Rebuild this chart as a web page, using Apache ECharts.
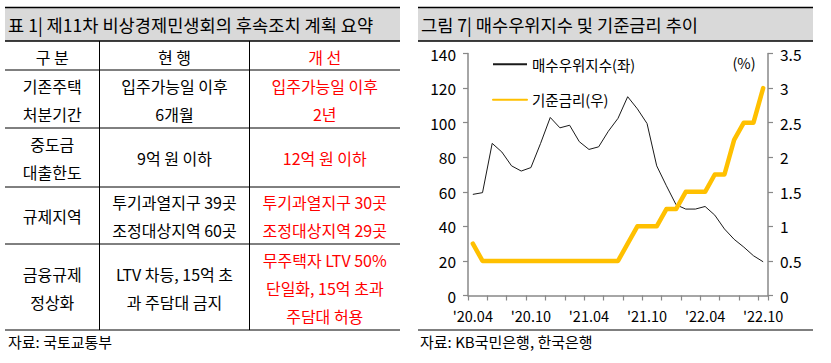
<!DOCTYPE html>
<html>
<head>
<meta charset="utf-8">
<script src="https://cdn.jsdelivr.net/npm/echarts@6/dist/echarts.min.js"></script>
<style>
html,body{margin:0;padding:0;background:#fff;}
#c{width:831px;height:363px;}
</style>
</head>
<body>
<div id="c"></div>
<script>
// ---------- data ----------
const tableTitle = '표 1| 제11차 비상경제민생회의 후속조치 계획 요약';
const tableHeader = ['구 분', '현 행', '개 선'];
const rowCategory = [['기존주택', '처분기간'], ['중도금', '대출한도'], ['규제지역'], ['금융규제', '정상화']];
const rowCurrent = [['입주가능일 이후', '6개월'], ['9억 원 이하'], ['투기과열지구 39곳', '조정대상지역 60곳'], ['LTV 차등, 15억 초', '과 주담대 금지']];
const rowImproved = [['입주가능일 이후', '2년'], ['12억 원 이하'], ['투기과열지구 30곳', '조정대상지역 29곳'], ['무주택자 LTV 50%', '단일화, 15억 초과', '주담대 허용']];
const tableSource = '자료: 국토교통부';

const chartTitle = '그림 7| 매수우위지수 및 기준금리 추이';
const chartSource = '자료: KB국민은행, 한국은행';
const unitLabel = '(%)';
const seriesNames = ['매수우위지수(좌)', '기준금리(우)'];
const months = ["'20.04","'20.05","'20.06","'20.07","'20.08","'20.09","'20.10","'20.11","'20.12",
  "'21.01","'21.02","'21.03","'21.04","'21.05","'21.06","'21.07","'21.08","'21.09","'21.10","'21.11","'21.12",
  "'22.01","'22.02","'22.03","'22.04","'22.05","'22.06","'22.07","'22.08","'22.09","'22.10"];
const buyIndex = [58.5, 59.5, 88, 83, 75, 72, 74, 88, 103, 97, 98.5, 89, 84.5, 86, 95, 102.5, 115, 108, 99.5,
  75, 63.5, 52.5, 50, 50, 51.5, 46.5, 38.5, 32.5, 28, 23, 19.5];
const baseRate = [0.75, 0.5, 0.5, 0.5, 0.5, 0.5, 0.5, 0.5, 0.5, 0.5, 0.5, 0.5, 0.5, 0.5, 0.5, 0.5, 0.75, 1.0,
  1.0, 1.0, 1.25, 1.25, 1.5, 1.5, 1.5, 1.75, 1.75, 2.25, 2.5, 2.5, 3.0];

// ---------- layout / style ----------
const FONT = '"Noto Sans CJK KR", "Noto Sans", sans-serif';
const RED = '#FF0000';
const rowY = [41, 70, 128, 187, 244, 330];
const colX = [5, 99.5, 249.5, 400];
const LH = 28;

const g = [];
function hline(x1, x2, y, w) { g.push({type: 'line', silent: true, shape: {x1: x1, y1: y, x2: x2, y2: y}, style: {stroke: '#000', lineWidth: w}}); }
function vline(x, y1, y2, w) { g.push({type: 'line', silent: true, shape: {x1: x, y1: y1, x2: x, y2: y2}, style: {stroke: '#000', lineWidth: w}}); }
function txt(s, x, y, size, color, align) {
  g.push({type: 'text', silent: true, x: x, y: y, style: {
    text: s, fontSize: size, fontFamily: FONT, fill: color, lineHeight: LH,
    align: align || 'center', textAlign: align || 'center', verticalAlign: 'middle', textVerticalAlign: 'middle'}});
}

// title bars
[[5, 400, tableTitle], [418, 813, chartTitle]].forEach(function (t) {
  g.push({type: 'rect', silent: true, shape: {x: t[0], y: 7.5, width: t[1] - t[0], height: 33.5}, style: {fill: '#D9D9D9'}});
  hline(t[0], t[1], 7.5, 1.5);
  hline(t[0], t[1], 41, 1.5);
  txt(t[2], t[0] + 3, 24.5, 17.6, '#000', 'left');
});

// table grid
for (let i = 1; i < rowY.length; i++) hline(colX[0], colX[3], rowY[i], 1);
vline(colX[1], rowY[0], rowY[5], 1);
vline(colX[2], rowY[0], rowY[5], 1);

// table text
function cx(c) { return (colX[c] + colX[c + 1]) / 2; }
tableHeader.forEach(function (h, c) { txt(h, cx(c), 56.5, 16, c === 2 ? RED : '#000'); });
for (let r = 0; r < rowCategory.length; r++) {
  const cy = (rowY[r + 1] + rowY[r + 2]) / 2 + 0.5;
  txt(rowCategory[r].join('\n'), cx(0), cy, 16, '#000');
  txt(rowCurrent[r].join('\n'), cx(1), cy, 16, '#000');
  txt(rowImproved[r].join('\n'), cx(2), cy, 16, RED);
}
txt(tableSource, 8, 341.5, 15, '#000', 'left');

// chart frame extras
hline(418, 813, 330, 1.2);
txt(chartSource, 420, 341.5, 15, '#000', 'left');
txt(unitLabel, 744, 62, 14.5, '#000', 'center');

const axisGray = '#888888';
const chart = echarts.init(document.getElementById('c'), null, {renderer: 'svg'});
chart.setOption({
  animation: false,
  backgroundColor: '#fff',
  textStyle: {fontFamily: FONT},
  graphic: {elements: g},
  grid: {left: 468, right: 63, top: 53.5, bottom: 67.5, containLabel: false},
  legend: {
    orient: 'vertical', left: 492, top: 57, itemWidth: 34, itemHeight: 14, itemGap: 21, padding: 0,
    itemStyle: {color: 'transparent', borderColor: 'transparent', borderWidth: 0},
    textStyle: {fontSize: 14.5, color: '#000', fontFamily: FONT},
    data: seriesNames
  },
  xAxis: {
    type: 'category', data: months, boundaryGap: true,
    axisLine: {lineStyle: {color: axisGray, width: 1.5}},
    axisTick: {show: true, interval: 1, length: 5, alignWithLabel: false, lineStyle: {color: axisGray, width: 1.2}},
    axisLabel: {interval: 5, margin: 12, fontSize: 14.5, lineHeight: 15, color: '#000', fontFamily: FONT},
    splitLine: {show: false}
  },
  yAxis: [{
    type: 'value', min: 0, max: 140, interval: 20, position: 'left',
    axisLine: {show: true, lineStyle: {color: axisGray, width: 1.5}},
    axisTick: {show: true, length: 5, lineStyle: {color: axisGray, width: 1.2}},
    axisLabel: {margin: 12, fontSize: 15.5, lineHeight: 15, color: '#000', fontFamily: FONT},
    splitLine: {show: false}
  }, {
    type: 'value', min: 0, max: 3.5, interval: 0.5, position: 'right',
    axisLine: {show: true, lineStyle: {color: axisGray, width: 1.5}},
    axisTick: {show: true, length: 5, lineStyle: {color: axisGray, width: 1.2}},
    axisLabel: {margin: 12, fontSize: 15.5, lineHeight: 15, color: '#000', fontFamily: FONT},
    splitLine: {show: false}
  }],
  series: [{
    name: seriesNames[0], type: 'line', yAxisIndex: 0, data: buyIndex,
    symbol: 'none', lineStyle: {color: '#1a1a1a', width: 1}, itemStyle: {color: '#1a1a1a'}
  }, {
    name: seriesNames[1], type: 'line', yAxisIndex: 1, data: baseRate,
    symbol: 'none', lineStyle: {color: '#FFC000', width: 4.5, cap: 'round', join: 'round'}, itemStyle: {color: '#FFC000'}
  }]
});
</script>
</body>
</html>
